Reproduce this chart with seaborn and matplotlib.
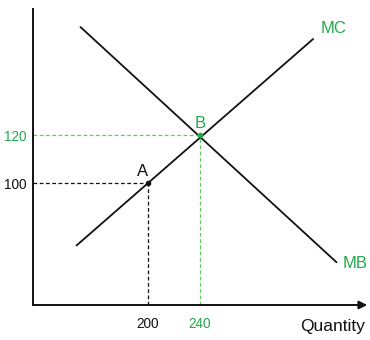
import matplotlib
matplotlib.use("Agg")
import matplotlib.pyplot as plt
import seaborn as sns
import pandas as pd

mc_q = [145, 327]
mc_p = [74, 160]
mb_q = [148, 345]
mb_p = [165, 67]
pt_names = ["A", "B"]
pt_q = [200, 240]
pt_p = [100, 120]
x_ticks = [200, 240]
y_ticks = [100, 120]

sns.set_style("white")
plt.rcParams['font.family'] = ['Liberation Sans', 'DejaVu Sans']

GREEN_T = "#22a84a"
GREEN_D = "#62c862"
BLACK = "#111111"

W, H = 370, 340
fig = plt.figure(figsize=(W / 100, H / 100), dpi=100)
left, right, top, bottom = 33, 362, 9, 305
ax = fig.add_axes([left / W, 1 - bottom / H, (right - left) / W, (bottom - top) / H])

xmin, xmax = 111.5, 200 + (right - 148) / 1.3
ymin, ymax = 49.2, 172.5

df_mc = pd.DataFrame({"Q": mc_q, "P": mc_p})
df_mb = pd.DataFrame({"Q": mb_q, "P": mb_p})
sns.lineplot(data=df_mc, x="Q", y="P", ax=ax, color=BLACK, lw=1.3)
sns.lineplot(data=df_mb, x="Q", y="P", ax=ax, color=BLACK, lw=1.3)

cols_d = [BLACK, GREEN_D]
cols_t = [BLACK, GREEN_T]
for name, q, p, cd, ct in zip(pt_names, pt_q, pt_p, cols_d, cols_t):
    ax.plot([xmin, q], [p, p], ls=(0, (3, 2)), color=cd, lw=0.9)
    ax.plot([q, q], [ymin, p], ls=(0, (3, 2)), color=cd, lw=0.9)
    ax.plot([q], [p], 'o', ms=3, color=ct if name == "B" else BLACK)
    ax.text(q - 4 if name == "A" else q, p + 1.5, name, color=ct, fontsize=12,
            ha="center", va="bottom")

ax.text(mc_q[1] + 6, mc_p[1] + 4.5, "MC", color=GREEN_T, fontsize=12, ha="left", va="center")
ax.text(mb_q[1] + 5, mb_p[1] - 0.5, "MB", color=GREEN_T, fontsize=12, ha="left", va="center")

ax.set_xlim(xmin, xmax)
ax.set_ylim(ymin, ymax)
ax.set_xticks(x_ticks)
ax.set_xticklabels([str(v) for v in x_ticks])
ax.set_yticks(y_ticks)
ax.set_yticklabels([str(v) for v in y_ticks])
ax.tick_params(axis="both", length=0, labelsize=9.8)
ax.tick_params(axis="x", pad=9)
ax.tick_params(axis="y", pad=5)
for lbl, c in zip(ax.get_xticklabels(), cols_t):
    lbl.set_color(c)
for lbl, c in zip(ax.get_yticklabels(), cols_t):
    lbl.set_color(c)
ax.set_xlabel("")
ax.set_ylabel("")

for s in ["top", "right"]:
    ax.spines[s].set_visible(False)
for s in ["left", "bottom"]:
    ax.spines[s].set_color(BLACK)
    ax.spines[s].set_linewidth(1.4)

ax.annotate("", xy=(xmax + 8 / 1.3, ymin), xytext=(xmax - 2, ymin),
            arrowprops=dict(arrowstyle="-|>", color=BLACK, lw=1.4, mutation_scale=12),
            annotation_clip=False)

fig.text(365 / W, 1 - 327 / H, "Quantity", fontsize=12.5, ha="right", va="center", color=BLACK)

fig.savefig("out.png", dpi=100)
